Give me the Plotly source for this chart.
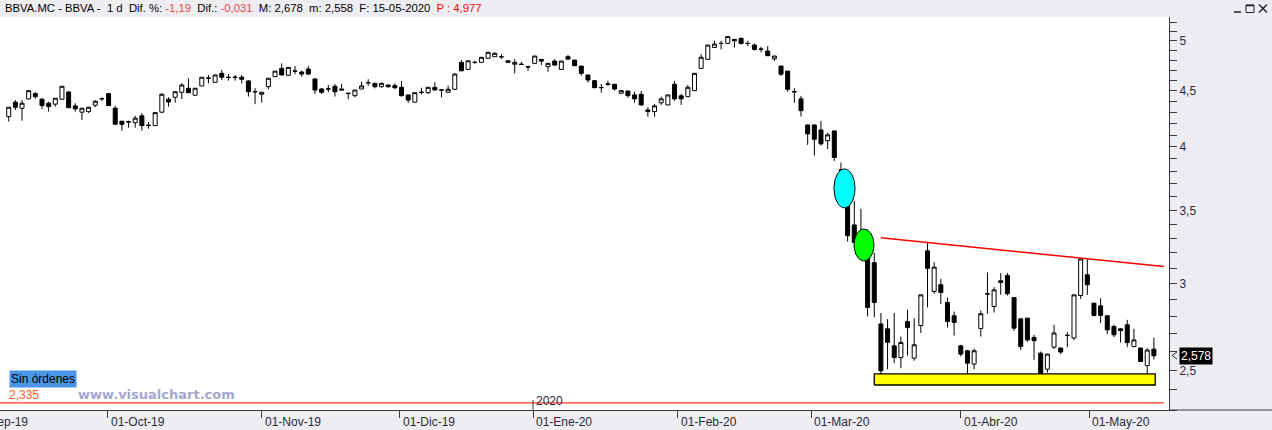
import math
import numpy as np
import plotly.graph_objects as go

# ---------------- data (daily candles, BBVA.MC) ----------------
opens = [4.262, 4.393, 4.338, 4.424, 4.473, 4.421, 4.384, 4.375, 4.421, 4.488,
         4.359, 4.302, 4.307, 4.365, 4.424, 4.473, 4.338, 4.221, 4.216, 4.208,
         4.269, 4.186, 4.182, 4.302, 4.421, 4.439, 4.486, 4.524, 4.458, 4.546,
         4.620, 4.581, 4.668, 4.630, 4.631, 4.630, 4.594, 4.492, 4.467, 4.539,
         4.635, 4.717, 4.649, 4.689, 4.681, 4.710, 4.613, 4.517, 4.518, 4.543,
         4.517, 4.476, 4.454, 4.517, 4.578, 4.571, 4.539, 4.555, 4.548, 4.533,
         4.461, 4.393, 4.487, 4.482, 4.533, 4.508, 4.486, 4.514, 4.777, 4.707,
         4.778, 4.777, 4.818, 4.834, 4.835, 4.777, 4.758, 4.758, 4.733, 4.767,
         4.807, 4.734, 4.790, 4.707, 4.834, 4.800, 4.740, 4.652, 4.597, 4.531,
         4.560, 4.562, 4.476, 4.498, 4.461, 4.467, 4.322, 4.307, 4.388, 4.368,
         4.562, 4.452, 4.445, 4.501, 4.717, 4.807, 4.929, 4.970, 4.971, 5.013,
         5.024, 4.972, 4.954, 4.913, 4.892, 4.813, 4.740, 4.690, 4.492, 4.424,
         4.188, 4.188, 4.144, 4.052, 4.136, 3.811, 3.554, 3.394, 3.330, 3.167,
         3.135, 2.756, 2.728, 2.632, 2.568, 2.770, 2.565, 2.747, 3.214, 2.951,
         2.993, 2.883, 2.804, 2.632, 2.605, 2.533, 2.730, 2.935, 2.859, 3.018,
         3.052, 2.913, 2.786, 2.790, 2.679, 2.592, 2.506, 2.625, 2.620, 2.690,
         2.676, 2.926, 3.056, 2.879, 2.863, 2.804, 2.741, 2.728, 2.751, 2.628,
         2.620, 2.525, 2.614]
highs = [4.347, 4.413, 4.413, 4.505, 4.488, 4.430, 4.398, 4.430, 4.545, 4.498,
         4.384, 4.340, 4.350, 4.413, 4.439, 4.479, 4.359, 4.221, 4.226, 4.269,
         4.293, 4.214, 4.300, 4.476, 4.439, 4.493, 4.572, 4.620, 4.525, 4.632,
         4.652, 4.654, 4.700, 4.661, 4.652, 4.652, 4.603, 4.524, 4.487, 4.621,
         4.692, 4.767, 4.730, 4.740, 4.693, 4.740, 4.620, 4.526, 4.555, 4.565,
         4.565, 4.478, 4.508, 4.587, 4.610, 4.577, 4.577, 4.556, 4.571, 4.594,
         4.462, 4.483, 4.529, 4.534, 4.581, 4.517, 4.548, 4.668, 4.800, 4.795,
         4.793, 4.830, 4.881, 4.879, 4.862, 4.795, 4.810, 4.783, 4.743, 4.843,
         4.808, 4.768, 4.810, 4.792, 4.851, 4.801, 4.741, 4.653, 4.598, 4.565,
         4.597, 4.563, 4.502, 4.499, 4.491, 4.498, 4.347, 4.378, 4.445, 4.462,
         4.594, 4.470, 4.555, 4.670, 4.859, 4.956, 4.999, 4.999, 5.045, 5.014,
         5.034, 4.999, 4.971, 4.936, 4.944, 4.842, 4.741, 4.691, 4.524, 4.452,
         4.190, 4.190, 4.223, 4.121, 4.137, 3.869, 3.570, 3.570, 3.511, 3.221,
         3.201, 2.820, 2.784, 2.820, 2.684, 2.839, 2.789, 2.932, 3.266, 3.138,
         3.030, 2.913, 2.829, 2.638, 2.610, 2.616, 2.835, 3.071, 2.978, 3.067,
         3.067, 2.914, 2.787, 2.791, 2.694, 2.601, 2.588, 2.751, 2.621, 2.709,
         2.931, 3.169, 3.165, 2.880, 2.909, 2.805, 2.751, 2.732, 2.780, 2.728,
         2.621, 2.619, 2.678]
lows = [4.218, 4.322, 4.226, 4.420, 4.424, 4.332, 4.307, 4.353, 4.420, 4.338,
        4.307, 4.232, 4.295, 4.347, 4.405, 4.360, 4.190, 4.138, 4.164, 4.164,
        4.138, 4.155, 4.180, 4.293, 4.353, 4.388, 4.421, 4.480, 4.455, 4.545,
        4.571, 4.580, 4.603, 4.597, 4.597, 4.571, 4.445, 4.375, 4.388, 4.514,
        4.634, 4.650, 4.648, 4.659, 4.635, 4.652, 4.470, 4.470, 4.486, 4.445,
        4.505, 4.421, 4.439, 4.516, 4.548, 4.524, 4.529, 4.529, 4.517, 4.445,
        4.388, 4.390, 4.467, 4.470, 4.505, 4.439, 4.484, 4.507, 4.690, 4.705,
        4.761, 4.775, 4.816, 4.832, 4.810, 4.775, 4.668, 4.750, 4.693, 4.765,
        4.750, 4.684, 4.740, 4.705, 4.800, 4.741, 4.645, 4.577, 4.527, 4.482,
        4.546, 4.501, 4.474, 4.436, 4.388, 4.362, 4.262, 4.262, 4.368, 4.366,
        4.407, 4.368, 4.443, 4.500, 4.715, 4.805, 4.927, 4.909, 4.969, 4.929,
        4.960, 4.944, 4.895, 4.879, 4.842, 4.793, 4.645, 4.491, 4.388, 4.262,
        4.016, 3.927, 4.011, 3.980, 3.883, 3.750, 3.278, 3.270, 3.180, 2.800,
        2.796, 2.424, 2.506, 2.538, 2.511, 2.578, 2.551, 2.704, 2.854, 2.937,
        2.875, 2.735, 2.690, 2.574, 2.467, 2.506, 2.684, 2.816, 2.823, 2.930,
        2.926, 2.716, 2.610, 2.655, 2.556, 2.478, 2.488, 2.615, 2.587, 2.625,
        2.665, 2.905, 2.930, 2.800, 2.761, 2.698, 2.681, 2.650, 2.625, 2.625,
        2.544, 2.481, 2.558]
closes = [4.347, 4.347, 4.384, 4.501, 4.445, 4.362, 4.353, 4.430, 4.543, 4.343,
          4.332, 4.338, 4.347, 4.402, 4.426, 4.362, 4.194, 4.194, 4.214, 4.248,
          4.182, 4.184, 4.298, 4.467, 4.395, 4.491, 4.555, 4.482, 4.524, 4.630,
          4.622, 4.652, 4.630, 4.628, 4.629, 4.610, 4.491, 4.490, 4.486, 4.620,
          4.690, 4.652, 4.727, 4.691, 4.661, 4.661, 4.507, 4.486, 4.516, 4.491,
          4.507, 4.475, 4.507, 4.546, 4.576, 4.539, 4.571, 4.539, 4.529, 4.454,
          4.413, 4.482, 4.485, 4.533, 4.507, 4.506, 4.514, 4.661, 4.693, 4.793,
          4.776, 4.828, 4.879, 4.869, 4.833, 4.793, 4.777, 4.757, 4.731, 4.841,
          4.790, 4.767, 4.750, 4.790, 4.810, 4.743, 4.668, 4.603, 4.529, 4.530,
          4.565, 4.517, 4.501, 4.454, 4.424, 4.368, 4.307, 4.359, 4.424, 4.461,
          4.424, 4.424, 4.533, 4.668, 4.828, 4.954, 4.964, 4.972, 5.043, 4.999,
          4.971, 4.970, 4.909, 4.911, 4.844, 4.841, 4.659, 4.514, 4.490, 4.316,
          4.110, 4.064, 4.025, 4.102, 3.911, 3.809, 3.318, 3.271, 3.220, 2.853,
          2.883, 2.498, 2.652, 2.568, 2.651, 2.735, 2.638, 2.930, 3.098, 3.106,
          2.945, 2.770, 2.765, 2.587, 2.538, 2.605, 2.816, 2.936, 2.961, 3.007,
          2.937, 2.732, 2.628, 2.665, 2.661, 2.481, 2.587, 2.704, 2.598, 2.691,
          2.930, 3.160, 2.993, 2.806, 2.806, 2.722, 2.694, 2.718, 2.650, 2.665,
          2.547, 2.609, 2.578]
days = list(range(len(opens)))

# x-axis (trading-day index) month markers
month_tick_pos = [-6.0, 14.9, 38.0, 58.7, 78.75, 100.45, 120.5, 143.0, 162.3]
month_tick_labels = ["01-Sep-19", "01-Oct-19", "01-Nov-19", "01-Dic-19", "01-Ene-20",
                     "01-Feb-20", "01-Mar-20", "01-Abr-20", "01-May-20"]
year_tick_pos = 78.75
year_label = "2020"

# price axis
price_ticks = [2.3, 2.4, 2.5, 2.6, 2.7, 2.8, 2.9, 3.0, 3.1, 3.2, 3.3, 3.4, 3.5, 3.6, 3.7,
               3.8, 3.9, 4.0, 4.1, 4.2, 4.3, 4.4, 4.5, 4.6, 4.7, 4.8, 4.9, 5.0, 5.1, 5.2]
price_labels = {2.5: "2,5", 3.0: "3", 3.5: "3,5", 4.0: "4", 4.5: "4,5", 5.0: "5"}

# drawings on the chart
level_price = 2.335
level_label = "2,335"
support_x = [130.0, 172.2]
support_y = [2.424, 2.481]
trend_x = [131.0, 173.5]
trend_y = [3.303, 3.110]
cyan_center = (125.53, 3.665)
green_center = (128.46, 3.254)
last_close = 2.578

# ---------------- layout geometry ----------------
W, H = 1272, 430
ML, MR, MT, MB = 0, 103, 17, 20
PW, PH = W - ML - MR, H - MT - MB
X_RANGE = [-1.307, 174.27]
Y_RANGE = [math.log10(2.300), math.log10(5.255)]
BG = "#eeeef2"
AXC = "#3a3a3a"
FONT = "Liberation Sans"


def pxx(px):
    return (px - ML) / PW


def pxy(py):
    return (H - MB - py) / PH


def xfrac(v):
    return (v - X_RANGE[0]) / (X_RANGE[1] - X_RANGE[0])


fig = go.Figure()

# price level line
fig.add_trace(go.Scatter(x=[X_RANGE[0], 173.5], y=[level_price, level_price], mode="lines",
                         line=dict(color="#ff3c1e", width=1.2), hoverinfo="skip"))

# support box
fig.add_trace(go.Scatter(
    x=[support_x[0], support_x[1], support_x[1], support_x[0], support_x[0]],
    y=[support_y[0], support_y[0], support_y[1], support_y[1], support_y[0]],
    mode="lines", fill="toself", fillcolor="#ffff00",
    line=dict(color="black", width=1.3), hoverinfo="skip"))

# trend line
fig.add_trace(go.Scatter(x=trend_x, y=trend_y, mode="lines",
                         line=dict(color="#ff0000", width=1.5), hoverinfo="skip"))


def ellipse(center, half_w, half_h_log, color):
    t = np.linspace(0, 2 * np.pi, 90)
    ex = center[0] + half_w * np.cos(t)
    ey = 10 ** (math.log10(center[1]) + half_h_log * np.sin(t))
    return go.Scatter(x=ex, y=ey, mode="lines", fill="toself", fillcolor=color,
                      line=dict(color="black", width=1), hoverinfo="skip")


fig.add_trace(ellipse(cyan_center, 1.58, 0.0178, "#00ffff"))
fig.add_trace(ellipse(green_center, 1.50, 0.0146, "#00ff00"))

# candles
fig.add_trace(go.Candlestick(
    x=days, open=opens, high=highs, low=lows, close=closes,
    increasing=dict(line=dict(color="black", width=1), fillcolor="white"),
    decreasing=dict(line=dict(color="black", width=1), fillcolor="black"),
    whiskerwidth=0, hoverinfo="skip"))

shapes = []
annotations = []

# x-axis month labels
for pos, lab in zip(month_tick_pos, month_tick_labels):
    annotations.append(dict(xref="paper", yref="paper", x=xfrac(pos), y=pxy(422),
                            xanchor="left", yanchor="middle", xshift=1, text=lab,
                            showarrow=False, font=dict(family=FONT, size=12, color="#2a2a3c")))
# year marker
shapes.append(dict(type="line", xref="x", yref="paper", x0=year_tick_pos, x1=year_tick_pos,
                   y0=pxy(400), y1=pxy(410), line=dict(color=AXC, width=1)))
annotations.append(dict(xref="x", yref="paper", x=year_tick_pos, y=pxy(401), xanchor="left",
                        yanchor="middle", xshift=1, text=year_label, showarrow=False,
                        font=dict(family=FONT, size=12, color="#2a2a3c")))

# bottom axis line continuing under the right axis area
shapes.append(dict(type="line", xref="paper", yref="paper", x0=pxx(1169), x1=pxx(1272),
                   y0=0, y1=0, line=dict(color=AXC, width=1)))

# level label
annotations.append(dict(xref="paper", yref="paper", x=pxx(7), y=pxy(395), xanchor="left",
                        yanchor="middle", text=level_label, showarrow=False,
                        font=dict(family=FONT, size=12, color="#ff5a1e")))
# "Sin órdenes" box
annotations.append(dict(xref="paper", yref="paper", x=pxx(9), y=pxy(379), xanchor="left",
                        yanchor="middle", text="Sin órdenes", showarrow=False,
                        bgcolor="#4a95e6", borderpad=1,
                        font=dict(family=FONT, size=12, color="black")))
# watermark
annotations.append(dict(xref="paper", yref="paper", x=pxx(76), y=pxy(394), xanchor="left",
                        yanchor="middle", text="<b>www.visualchart.com</b>", showarrow=False,
                        font=dict(family="DejaVu Sans", size=13, color="#a6a6cf")))

# last price label
annotations.append(dict(xref="paper", yref="y", x=pxx(1179), y=math.log10(last_close),
                        xanchor="left", yanchor="middle", text="2,578", showarrow=False,
                        bgcolor="black", borderpad=1,
                        font=dict(family=FONT, size=12, color="white")))
shapes.append(dict(type="path", xref="paper", yref="paper",
                   path=f"M {pxx(1177)},{pxy(352)} L {pxx(1172)},{pxy(355.5)} L {pxx(1177)},{pxy(359)}",
                   line=dict(color="#333333", width=1)))

# header
hdr = ("BBVA.MC - BBVA -\u00a0 1 d\u00a0 Dif. %: <span style='color:#e8494b'>-1,19</span>\u00a0 "
       "Dif.: <span style='color:#e8494b'>-0,031</span>\u00a0 M: 2,678\u00a0 m: 2,558\u00a0 "
       "F: 15-05-2020\u00a0 <span style='color:#ff0000'>P : 4,977</span>")
annotations.append(dict(xref="paper", yref="paper", x=pxx(3), y=pxy(8), xanchor="left",
                        yanchor="middle", text=hdr, showarrow=False,
                        font=dict(family=FONT, size=11.3, color="black")))

# window buttons
shapes.append(dict(type="line", xref="paper", yref="paper", x0=pxx(1234), x1=pxx(1241),
                   y0=pxy(12), y1=pxy(12), line=dict(color="#222", width=1.5)))
shapes.append(dict(type="rect", xref="paper", yref="paper", x0=pxx(1246), x1=pxx(1254),
                   y0=pxy(5), y1=pxy(12.5), line=dict(color="#222", width=1)))
shapes.append(dict(type="line", xref="paper", yref="paper", x0=pxx(1246), x1=pxx(1254),
                   y0=pxy(5.5), y1=pxy(5.5), line=dict(color="#222", width=1.5)))
shapes.append(dict(type="line", xref="paper", yref="paper", x0=pxx(1259), x1=pxx(1267),
                   y0=pxy(4.5), y1=pxy(12.5), line=dict(color="#222", width=1.5)))
shapes.append(dict(type="line", xref="paper", yref="paper", x0=pxx(1259), x1=pxx(1267),
                   y0=pxy(12.5), y1=pxy(4.5), line=dict(color="#222", width=1.5)))

fig.update_layout(
    width=W, height=H, autosize=False,
    margin=dict(l=ML, r=MR, t=MT, b=MB, pad=0),
    paper_bgcolor=BG, plot_bgcolor="white",
    showlegend=False, boxgap=0.4, boxgroupgap=0,
    shapes=shapes, annotations=annotations,
    font=dict(family=FONT, size=12, color="#2a2a3c"),
    xaxis=dict(range=X_RANGE, showgrid=False, zeroline=False, showline=True,
               linecolor=AXC, linewidth=1, ticks="outside", ticklen=7, tickcolor=AXC,
               tickvals=month_tick_pos[1:], showticklabels=False,
               rangeslider=dict(visible=False), fixedrange=True),
    yaxis=dict(type="log", range=Y_RANGE, side="right", showgrid=False, zeroline=False,
               showline=True, linecolor=AXC, linewidth=1, ticks="outside", ticklen=7,
               tickcolor=AXC, tickvals=price_ticks,
               ticktext=[price_labels.get(round(v, 1), "") for v in price_ticks],
               tickfont=dict(family=FONT, size=12, color="#2a2a3c"), fixedrange=True),
)

fig.write_html("out.html")
